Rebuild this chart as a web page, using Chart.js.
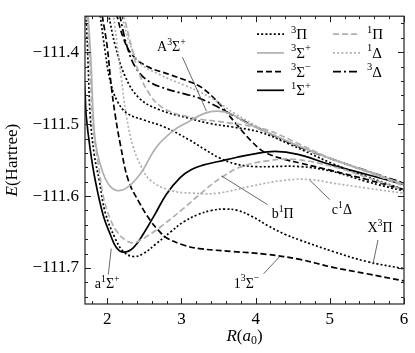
<!DOCTYPE html>
<html>
<head>
<meta charset="utf-8">
<script src="https://cdn.jsdelivr.net/npm/chart.js@4.4.0/dist/chart.umd.min.js"></script>
<style>
  html, body { margin: 0; padding: 0; background: #fff; }
</style>
</head>
<body>
<canvas id="chart" width="415" height="353"></canvas>
<script>
// potential curves, [R (a0), E (Hartree)]
const a1Sigma = [[1.68,-111.425],[1.703,-111.461],[1.716,-111.488],[1.77,-111.535],[1.838,-111.578],[1.946,-111.627],[2.04,-111.653],[2.12,-111.671],[2.22,-111.678],[2.35,-111.672],[2.49,-111.652],[2.65,-111.624],[2.80,-111.597],[2.986,-111.574],[3.135,-111.563],[3.29,-111.557],[3.5,-111.552],[3.75,-111.546],[3.946,-111.542],[4.26,-111.538],[4.57,-111.542],[5.0,-111.556],[5.5,-111.57],[6.0,-111.584]];
const X3Pi = [[1.716,-111.349],[1.743,-111.42],[1.77,-111.488],[1.824,-111.542],[1.892,-111.578],[1.973,-111.623],[2.108,-111.659],[2.216,-111.677],[2.351,-111.684],[2.486,-111.68],[2.662,-111.666],[2.851,-111.65],[3.027,-111.636],[3.216,-111.626],[3.405,-111.62],[3.581,-111.618],[3.757,-111.62],[3.946,-111.628],[4.162,-111.641],[4.392,-111.653],[4.595,-111.661],[5.041,-111.677],[5.5,-111.691],[6.0,-111.701]];
const pi3Mid = [[1.905,-111.349],[1.973,-111.4],[2.041,-111.441],[2.135,-111.468],[2.27,-111.485],[2.514,-111.495],[2.77,-111.504],[3.108,-111.522],[3.311,-111.535],[3.514,-111.547],[3.716,-111.555],[3.986,-111.559],[4.595,-111.559],[5.041,-111.566],[5.5,-111.58],[6.0,-111.593]];
const pi3Up = [[2.014,-111.346],[2.108,-111.391],[2.243,-111.434],[2.432,-111.464],[2.703,-111.48],[3.108,-111.492],[3.378,-111.499],[3.689,-111.504],[4.054,-111.511],[4.459,-111.528],[5.041,-111.555],[5.5,-111.573],[6.0,-111.591]];
const s3minus1 = [[1.932,-111.349],[2.0,-111.393],[2.054,-111.447],[2.108,-111.488],[2.176,-111.528],[2.284,-111.578],[2.432,-111.609],[2.581,-111.634],[2.703,-111.649],[2.797,-111.658],[3.027,-111.668],[3.243,-111.673],[3.689,-111.677],[4.149,-111.681],[4.595,-111.688],[5.041,-111.699],[5.5,-111.708],[6.0,-111.718]];
const s3minus2 = [[2.122,-111.346],[2.216,-111.38],[2.338,-111.404],[2.541,-111.42],[2.838,-111.431],[3.108,-111.441],[3.27,-111.449],[3.486,-111.469],[3.716,-111.497],[3.946,-111.524],[4.122,-111.539],[4.392,-111.549],[4.595,-111.554],[5.041,-111.565],[5.5,-111.577],[6.0,-111.591]];
const d3 = [[2.162,-111.346],[2.27,-111.393],[2.392,-111.423],[2.568,-111.441],[2.797,-111.451],[3.041,-111.458],[3.243,-111.464],[3.486,-111.476],[3.716,-111.489],[3.946,-111.501],[4.162,-111.512],[4.392,-111.523],[4.595,-111.532],[5.041,-111.549],[5.5,-111.565],[6.0,-111.582]];
const d1Up = [[2.189,-111.346],[2.297,-111.386],[2.432,-111.414],[2.703,-111.431],[3.041,-111.446],[3.243,-111.455],[3.486,-111.469],[3.716,-111.485],[4.162,-111.511],[4.595,-111.531],[5.041,-111.549],[5.5,-111.566],[6.0,-111.584]];
const c1Delta = [[2.081,-111.346],[2.135,-111.391],[2.189,-111.436],[2.257,-111.488],[2.351,-111.532],[2.459,-111.559],[2.581,-111.578],[2.851,-111.592],[3.162,-111.596],[3.486,-111.596],[3.946,-111.586],[4.392,-111.578],[4.73,-111.577],[5.041,-111.582],[5.5,-111.589],[6.0,-111.596]];
const A3Sigma = [[1.743,-111.349],[1.784,-111.42],[1.811,-111.488],[1.851,-111.532],[1.946,-111.569],[2.027,-111.585],[2.122,-111.592],[2.257,-111.589],[2.446,-111.569],[2.662,-111.532],[2.892,-111.509],[3.108,-111.496],[3.311,-111.485],[3.486,-111.482],[3.676,-111.486],[3.851,-111.497],[4.149,-111.511],[4.595,-111.531],[5.041,-111.549],[5.5,-111.565],[6.0,-111.584]];
const pi1Up = [[2.216,-111.346],[2.324,-111.391],[2.432,-111.43],[2.568,-111.458],[2.703,-111.474],[2.905,-111.485],[3.068,-111.489],[3.243,-111.493],[3.689,-111.499],[4.149,-111.508],[4.595,-111.528],[5.041,-111.549],[5.5,-111.566],[6.0,-111.586]];
const b1Pi = [[1.73,-111.349],[1.77,-111.42],[1.797,-111.488],[1.838,-111.528],[1.878,-111.555],[1.946,-111.6],[2.041,-111.632],[2.135,-111.65],[2.243,-111.661],[2.351,-111.665],[2.486,-111.659],[2.716,-111.643],[3.041,-111.616],[3.311,-111.592],[3.541,-111.574],[3.811,-111.559],[4.162,-111.551],[4.527,-111.549],[5.041,-111.559],[5.5,-111.574],[6.0,-111.592]];

const xTicks = [2, 3, 4, 5, 6];
const yTicks = [-111.7, -111.6, -111.5, -111.4];

// line style of each symmetry
const GRAY = '#b0b0b0';
const sym = {
  '3Pi': { label: '^3Π',   color: '#000', dash: [2, 2.2] },
  '1Pi': { label: '^1Π',   color: GRAY,   dash: [6, 3] },
  '3S+': { label: '^3Σ^+', color: GRAY,   dash: [] },
  '1D':  { label: '^1Δ',   color: GRAY,   dash: [2, 2.2] },
  '3S-': { label: '^3Σ^−', color: '#000', dash: [6, 3] },
  '3D':  { label: '^3Δ',   color: '#000', dash: [8, 3, 2, 3] },
  '1S+': { label: '^1Σ^+', color: '#000', dash: [] }
};
const legendOrder = ['3Pi', '1Pi', '3S+', '1D', '3S-', '3D', '1S+'];

const curves = [
  [pi1Up, '1Pi'], [d1Up, '1D'], [A3Sigma, '3S+'], [b1Pi, '1Pi'], [c1Delta, '1D'],
  [pi3Up, '3Pi'], [pi3Mid, '3Pi'], [X3Pi, '3Pi'],
  [s3minus2, '3S-'], [s3minus1, '3S-'], [d3, '3D'], [a1Sigma, '1S+']
];

// state labels: text, text position, line from, line to (data units)
const notes = [
  ['A^3Σ^+', [2.865, -111.393], [3.014, -111.407], [3.338, -111.482]],
  ['b^1Π',   [4.365, -111.626], [4.162, -111.612], [3.541, -111.572]],
  ['c^1Δ',   [5.162, -111.620], [5.0, -111.605],   [4.73, -111.578]],
  ['X^3Π',   [5.676, -111.645], [5.649, -111.661], [5.581, -111.695]],
  ['1^3Σ^−', [3.878, -111.722], [4.108, -111.708], [4.324, -111.684]],
  ['a^1Σ^+', [2.0, -111.723],   [2.014, -111.709], [2.054, -111.673]]
];

const FONT = '"Liberation Serif", "DejaVu Serif", serif';

// tiny markup: *..* italic, ^c superscript, _c subscript
function drawRich(ctx, str, x, y, size, align) {
  const parts = [];
  let it = false;
  for (let i = 0; i < str.length; i++) {
    let ch = str[i], mode = '';
    if (ch === '*') { it = !it; continue; }
    if (ch === '^' || ch === '_') { mode = ch; ch = str[++i]; }
    const sz = mode ? size * 0.7 : size;
    const font = (it ? 'italic ' : '') + sz + 'px ' + FONT;
    ctx.font = font;
    parts.push({ ch, font, w: ctx.measureText(ch).width,
      dy: mode === '^' ? -size * 0.36 : mode === '_' ? size * 0.22 : 0 });
  }
  const total = parts.reduce((s, p) => s + p.w, 0);
  let cx = align === 'center' ? x - total / 2 : align === 'right' ? x - total : x;
  ctx.textAlign = 'left';
  ctx.textBaseline = 'middle';
  ctx.fillStyle = '#000';
  for (const p of parts) {
    ctx.font = p.font;
    ctx.fillText(p.ch, cx, y + p.dy);
    cx += p.w;
  }
}

const decor = {
  id: 'decor',
  afterDraw(chart) {
    const { ctx, chartArea: a, scales: { x, y } } = chart;
    ctx.save();
    ctx.strokeStyle = '#222';
    ctx.lineWidth = 1.2;
    ctx.setLineDash([]);
    ctx.strokeRect(a.left, a.top, a.right - a.left, a.bottom - a.top);

    // inward ticks on all four sides
    ctx.lineWidth = 1;
    ctx.beginPath();
    for (let k = 9; k <= 30; k++) {
      const px = Math.round(x.getPixelForValue(k / 5)) + 0.5;
      const len = k % 5 === 0 ? 6 : 3;
      ctx.moveTo(px, a.bottom); ctx.lineTo(px, a.bottom - len);
      ctx.moveTo(px, a.top); ctx.lineTo(px, a.top + len);
    }
    for (let k = -11174; k <= -11136; k += 2) {
      const py = Math.round(y.getPixelForValue(k / 100)) + 0.5;
      const len = k % 10 === 0 ? 6 : 3;
      ctx.moveTo(a.left, py); ctx.lineTo(a.left + len, py);
      ctx.moveTo(a.right, py); ctx.lineTo(a.right - len, py);
    }
    ctx.stroke();

    // state labels
    ctx.strokeStyle = '#444';
    ctx.lineWidth = 0.8;
    for (const [txt, pos, p0, p1] of notes) {
      ctx.beginPath();
      ctx.moveTo(x.getPixelForValue(p0[0]), y.getPixelForValue(p0[1]));
      ctx.lineTo(x.getPixelForValue(p1[0]), y.getPixelForValue(p1[1]));
      ctx.stroke();
      drawRich(ctx, txt, x.getPixelForValue(pos[0]), y.getPixelForValue(pos[1]), 14, 'center');
    }

    // legend, two columns
    legendOrder.forEach((key, i) => {
      const s = sym[key];
      const lx = a.right - (i % 2 === 0 ? 147 : 71);
      const ly = a.top + 18 + Math.floor(i / 2) * 18.7;
      ctx.beginPath();
      ctx.strokeStyle = s.color;
      ctx.lineWidth = 1.7;
      ctx.setLineDash(s.dash);
      ctx.moveTo(lx, ly); ctx.lineTo(lx + 27, ly);
      ctx.stroke();
      ctx.setLineDash([]);
      drawRich(ctx, s.label, lx + 34, ly + 1, 15, 'left');
    });

    // axis titles
    drawRich(ctx, '*R*(*a*_0)', (a.left + a.right) / 2, 337, 17, 'center');
    ctx.translate(13, (a.top + a.bottom) / 2);
    ctx.rotate(-Math.PI / 2);
    drawRich(ctx, '*E*(Hartree)', 0, 0, 17, 'center');
    ctx.restore();
  }
};

new Chart(document.getElementById('chart'), {
  type: 'line',
  data: {
    datasets: curves.map(([pts, key]) => ({
      data: pts,
      borderColor: sym[key].color,
      borderDash: sym[key].dash,
      borderWidth: 1.7,
      pointRadius: 0,
      fill: false,
      tension: 0.4
    }))
  },
  options: {
    responsive: false,
    devicePixelRatio: 1,
    animation: false,
    layout: { padding: { top: 7, right: 11, left: 0, bottom: 0 } },
    plugins: { legend: { display: false }, tooltip: { enabled: false } },
    scales: {
      x: {
        type: 'linear', min: 1.7, max: 6,
        afterBuildTicks: s => { s.ticks = xTicks.map(v => ({ value: v })); },
        afterFit: s => { s.height = 49; },
        grid: { display: false, drawTicks: false },
        border: { display: false },
        ticks: { color: '#000', padding: 5, maxRotation: 0, autoSkip: false,
          font: { family: FONT, size: 17 }, callback: v => String(v) }
      },
      y: {
        type: 'linear', min: -111.75, max: -111.35,
        afterBuildTicks: s => { s.ticks = yTicks.map(v => ({ value: v })); },
        afterFit: s => { s.width = 85; },
        grid: { display: false, drawTicks: false },
        border: { display: false },
        ticks: { color: '#000', padding: 6, autoSkip: false,
          font: { family: FONT, size: 17 }, callback: v => '−' + Math.abs(v).toFixed(1) }
      }
    }
  },
  plugins: [decor]
});
</script>
</body>
</html>
